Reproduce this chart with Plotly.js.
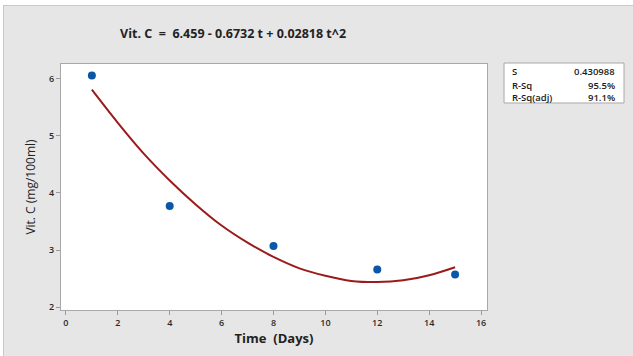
<!DOCTYPE html>
<html>
<head>
<meta charset="utf-8">
<script src="https://cdn.plot.ly/plotly-3.0.1.min.js"></script>
<style>
  html, body { margin: 0; padding: 0; background: #ffffff; width: 633px; height: 356px; overflow: hidden; }
  #frame { position: absolute; left: 3px; top: 5px; width: 640px; height: 360px; border-left: 1px solid #c9c9c9; border-top: 1px solid #c9c9c9; background: #e6e6e6; }
  #chart { position: absolute; left: 1px; top: 1px; }
</style>
</head>
<body>
<div id="frame"><div id="chart"></div></div>
<script>
// Observed data
const days = [1, 4, 8, 12, 15];
const vitC = [6.06, 3.77, 3.07, 2.66, 2.57];

// Fitted curve
const fitDays = [1, 2, 3, 4, 5, 6, 7, 8, 9, 10, 11, 12, 13, 14, 15];
const fitVitC = [5.81, 5.23, 4.69, 4.22, 3.80, 3.43, 3.13, 2.88, 2.68, 2.55, 2.46, 2.44, 2.47, 2.56, 2.70];

// Tick labels
const xTicks = [0, 2, 4, 6, 8, 10, 12, 14, 16];
const yTicks = [2, 3, 4, 5, 6];

// Summary statistics
const statNames = ["S", "R-Sq", "R-Sq(adj)"];
const statValues = ["0.430988", "95.5%", "91.1%"];

const tickFont = {family: "Open Sans, sans-serif", size: 9, color: "#2a2a2a", weight: 600};
const statFont = {family: "Open Sans, sans-serif", size: 9.5, color: "#1a1a1a", weight: 600};

const traces = [
  {
    x: fitDays, y: fitVitC, type: "scatter", mode: "lines",
    line: {color: "#9b1b1b", width: 2, shape: "spline"},
    hoverinfo: "skip", showlegend: false
  },
  {
    x: days, y: vitC, type: "scatter", mode: "markers",
    marker: {color: "#0a56a8", size: 8},
    showlegend: false
  }
];

const rowsY = [0.9675, 0.9146, 0.8618];
const annotations = [];
statNames.forEach((n, i) => {
  annotations.push({xref: "paper", yref: "paper", x: 1.054, y: rowsY[i], xanchor: "left", yanchor: "middle",
    text: n, showarrow: false, font: statFont});
  annotations.push({xref: "paper", yref: "paper", x: 1.305, y: rowsY[i], xanchor: "right", yanchor: "middle",
    text: statValues[i], showarrow: false, font: statFont});
});

const layout = {
  width: 629, height: 350,
  margin: {l: 56, r: 147, t: 57, b: 47},
  paper_bgcolor: "rgba(0,0,0,0)",
  plot_bgcolor: "#ffffff",
  title: {
    text: "<b>Vit. C  =  6.459 - 0.6732 t + 0.02818 t^2</b>",
    font: {family: "Open Sans, sans-serif", size: 12.5, color: "#222222"},
    xref: "paper", x: 0.404, xanchor: "center", y: 0.923, yref: "container", yanchor: "middle"
  },
  xaxis: {
    range: [-0.19, 16.23], tickvals: xTicks, ticktext: xTicks.map(String),
    ticks: "outside", ticklen: 4, tickcolor: "#9a9a9a", tickfont: tickFont,
    showgrid: false, zeroline: false, showline: true, linecolor: "#a8a8a8", mirror: true,
    title: {text: "<b>Time  (Days)</b>", font: {family: "Open Sans, sans-serif", size: 13, color: "#222222"}, standoff: 6}
  },
  yaxis: {
    range: [1.95, 6.26], tickvals: yTicks, ticktext: yTicks.map(String),
    ticks: "outside", ticklen: 4, tickcolor: "#9a9a9a", tickfont: tickFont,
    showgrid: false, zeroline: false, showline: true, linecolor: "#a8a8a8", mirror: true,
    title: {text: "Vit. C (mg/100ml)", font: {family: "Open Sans, sans-serif", size: 12, color: "#222222"}, standoff: 10}
  },
  shapes: [
    {type: "rect", xref: "paper", yref: "paper", x0: 1.04, x1: 1.3216, y0: 0.8415, y1: 1.004,
     fillcolor: "#ffffff", line: {color: "#a8a8a8", width: 1}, layer: "below"}
  ],
  annotations: annotations
};

Plotly.newPlot("chart", traces, layout, {displayModeBar: false, staticPlot: true});
</script>
</body>
</html>
